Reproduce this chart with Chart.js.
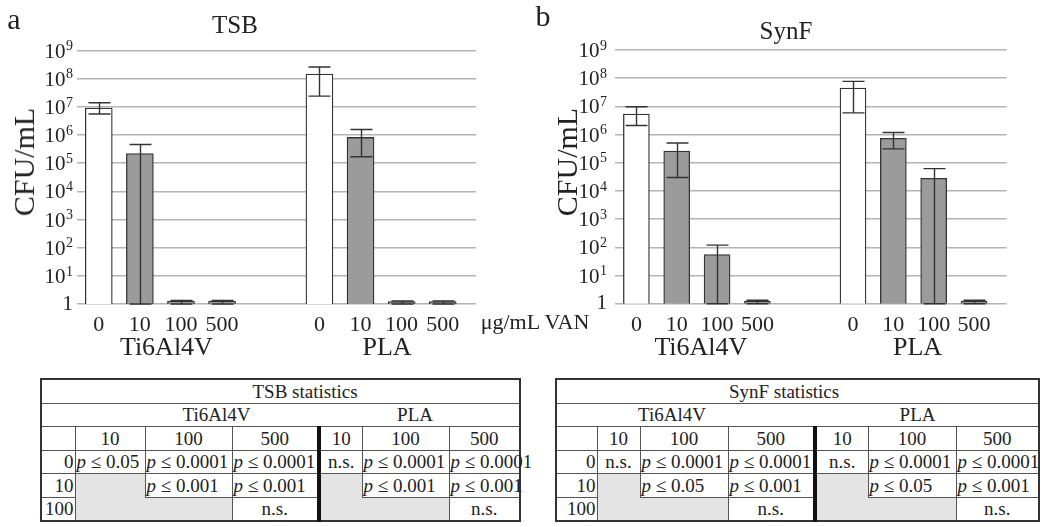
<!DOCTYPE html>
<html>
<head>
<meta charset="utf-8">
<script src="https://cdn.jsdelivr.net/npm/chart.js@4.4.0/dist/chart.umd.min.js"></script>
<style>
  body { margin: 0; background: #fff; font-family: "Liberation Serif", serif; color: #222; }
  #page { position: relative; width: 1050px; height: 527px; overflow: hidden; }
  .lbl { position: absolute; white-space: nowrap; line-height: 1; transform: translate(-50%, -50%); }
  .rot { transform: translate(-50%, -50%) rotate(-90deg); }
  canvas { position: absolute; top: 0; }
  table { position: absolute; top: 378px; border-collapse: collapse; table-layout: fixed; font-size: 19px; border: 2px solid #333; }
  td { border: 1px solid #555; height: 22.5px; padding: 0 1px; text-align: center; white-space: nowrap; line-height: 1; }
  td.pv { text-align: left; }
  td.rl { text-align: right; }
  td.gr { background: #e4e4e4; }
  td.thick { border-left: 4px solid #111; }
</style>
</head>
<body>
<div id="page">
  <canvas id="chartA" width="520" height="370" style="left:0"></canvas>
  <canvas id="chartB" width="530" height="370" style="left:520px"></canvas>

  <div class="lbl" style="left:14px; top:19px; font-size:30px;">a</div>
  <div class="lbl" style="left:543px; top:16px; font-size:30px;">b</div>
  <div class="lbl" style="left:235px; top:23.5px; font-size:25px;">TSB</div>
  <div class="lbl" style="left:786px; top:30px; font-size:25px;">SynF</div>
  <div class="lbl rot" style="left:24px; top:162px; font-size:30px;">CFU/mL</div>
  <div class="lbl rot" style="left:567px; top:162px; font-size:30px;">CFU/mL</div>
  <div class="lbl" style="left:535px; top:322px; font-size:22px;">μg/mL VAN</div>

  <table id="statsA" style="left:40px; width:479px;"></table>
  <table id="statsB" style="left:555px; width:483px;"></table>
</div>

<script>
// bar chart values (CFU/mL), order: Ti6Al4V 0,10,100,500 then PLA 0,10,100,500
const concentrations = ['0', '10', '100', '500'];
const materials = ['Ti6Al4V', 'PLA'];
const yTicks = [1, 1e1, 1e2, 1e3, 1e4, 1e5, 1e6, 1e7, 1e8, 1e9];

const tsbMean  = [9.0e6, 2.2e5, 1.28, 1.28, 1.45e8, 8.2e5, 1.22, 1.22];
const tsbUpper = [1.4e7, 4.6e5, 1.35, 1.35, 2.6e8, 1.56e6, 1.28, 1.28];
const tsbLower = [5.6e6, 1, 1, 1, 2.4e7, 1.7e5, 1, 1];

const synfMean  = [5.3e6, 2.6e5, 55, 1.25, 4.5e7, 7.4e5, 2.8e4, 1.25];
const synfUpper = [9.7e6, 5.0e5, 120, 1.32, 7.7e7, 1.18e6, 6.2e4, 1.32];
const synfLower = [2.1e6, 3.0e4, 1, 1, 5.9e6, 3.1e5, 1, 1];

// statistics tables: rows 0 / 10 / 100 vs columns Ti 10,100,500 | PLA 10,100,500
const statRows = ['0', '10', '100'];
const tsbStats = [
  ['p ≤ 0.05', 'p ≤ 0.0001', 'p ≤ 0.0001', 'n.s.', 'p ≤ 0.0001', 'p ≤ 0.0001'],
  [null, 'p ≤ 0.001', 'p ≤ 0.001', null, 'p ≤ 0.001', 'p ≤ 0.001'],
  [null, null, 'n.s.', null, null, 'n.s.']
];
const synfStats = [
  ['n.s.', 'p ≤ 0.0001', 'p ≤ 0.0001', 'n.s.', 'p ≤ 0.0001', 'p ≤ 0.0001'],
  [null, 'p ≤ 0.05', 'p ≤ 0.001', null, 'p ≤ 0.05', 'p ≤ 0.001'],
  [null, null, 'n.s.', null, null, 'n.s.']
];

const groupGap = 5.37;
const positions = materials.flatMap((m, g) => concentrations.map((c, i) => g * groupGap + i));

const errorBars = {
  id: 'errorBars',
  afterDatasetsDraw(chart, args, opts) {
    const ctx = chart.ctx;
    const y = chart.scales.y;
    const meta = chart.getDatasetMeta(0);
    ctx.save();
    ctx.strokeStyle = '#333';
    ctx.lineWidth = 1.4;
    meta.data.forEach((bar, i) => {
      const top = y.getPixelForValue(opts.upper[i]);
      const bot = y.getPixelForValue(opts.lower[i]);
      const x = Math.round(bar.x) + 0.5;
      ctx.beginPath();
      ctx.moveTo(x, top); ctx.lineTo(x, bot);
      ctx.moveTo(x - 11, top); ctx.lineTo(x + 11, top);
      ctx.moveTo(x - 11, bot); ctx.lineTo(x + 11, bot);
      ctx.stroke();
    });
    ctx.restore();
  }
};

// group names under the concentration ticks, and 10^n labels with a raised exponent
const axisText = {
  id: 'axisText',
  afterDraw(chart, args, opts) {
    const ctx = chart.ctx;
    const x = chart.scales.x;
    const y = chart.scales.y;
    ctx.save();
    ctx.fillStyle = '#222';
    ctx.font = '26px "Liberation Serif"';
    ctx.textAlign = 'center';
    ctx.textBaseline = 'alphabetic';
    materials.forEach((m, g) => {
      ctx.fillText(m, x.getPixelForValue(g * groupGap + 1.5) + opts.shift, 355);
    });
    ctx.textAlign = 'right';
    ctx.textBaseline = 'middle';
    const right = chart.chartArea.left - opts.pad;
    yTicks.forEach(v => {
      const py = y.getPixelForValue(v);
      const exp = Math.round(Math.log10(v));
      if (exp === 0) {
        ctx.font = '21px "Liberation Serif"';
        ctx.fillText('1', right, py);
        return;
      }
      ctx.font = '14px "Liberation Serif"';
      const sw = ctx.measureText(String(exp)).width;
      ctx.fillText(String(exp), right, py - 4);
      ctx.font = '21px "Liberation Serif"';
      ctx.fillText('10', right - sw - 0.5, py + 1.5);
    });
    ctx.restore();
  }
};

function makeChart(id, mean, upper, lower, cfg) {
  return new Chart(document.getElementById(id), {
    type: 'bar',
    data: {
      datasets: [{
        data: positions.map((p, i) => ({ x: p, y: mean[i] })),
        backgroundColor: positions.map((p, i) => i % 4 === 0 ? '#ffffff' : '#9b9b9b'),
        borderColor: '#333',
        borderWidth: 1.3,
        barThickness: cfg.bar
      }]
    },
    options: {
      responsive: false,
      animation: false,
      layout: { padding: { top: cfg.top, right: cfg.right, left: 0, bottom: 0 } },
      plugins: {
        legend: { display: false },
        tooltip: { enabled: false },
        errorBars: { upper: upper, lower: lower },
        axisText: { shift: cfg.shift, pad: cfg.tickPad }
      },
      scales: {
        x: {
          type: 'linear',
          bounds: 'data',
          offset: false,
          min: -0.53,
          max: 9.18,
          grid: { display: false },
          border: { display: false },
          afterBuildTicks: (scale) => { scale.ticks = positions.map(v => ({ value: v })); },
          afterFit: (scale) => { scale.height = 370 - cfg.bottom; },
          ticks: {
            autoSkip: false,
            maxRotation: 0,
            padding: 0,
            color: '#222',
            font: { family: 'Liberation Serif', size: 22 },
            callback: (v, i) => concentrations[i % 4]
          }
        },
        y: {
          type: 'logarithmic',
          min: 1,
          max: 1e9,
          afterBuildTicks: (scale) => { scale.ticks = yTicks.map(v => ({ value: v })); },
          afterFit: (scale) => { scale.width = cfg.left; },
          grid: { color: '#b4b4b4', lineWidth: 1.5, drawTicks: false },
          border: { display: false },
          ticks: { display: false, autoSkip: false }
        }
      }
    },
    plugins: [errorBars, axisText]
  });
}

makeChart('chartA', tsbMean, tsbUpper, tsbLower, { bar: 27, top: 50.5, bottom: 304, left: 77, right: 44, tickPad: 4, shift: 6 });
makeChart('chartB', synfMean, synfUpper, synfLower, { bar: 26, top: 50, bottom: 303.7, left: 95, right: 43.3, tickPad: 8, shift: 4 });

function buildTable(id, title, stats, widths, pads) {
  const t = document.getElementById(id);
  let html = '<colgroup>' + widths.map(w => '<col style="width:' + w + 'px">').join('') + '</colgroup>';
  html += '<tr><td colspan="7" style="padding-left:' + pads[0] + 'px;padding-right:' + pads[1] + 'px">' + title + '</td></tr>';
  html += '<tr><td colspan="4" style="border-right:hidden;padding-left:' + pads[2] + 'px;padding-right:' + pads[3] + 'px">' + materials[0] + '</td>' +
          '<td colspan="3" style="padding-right:' + pads[4] + 'px">' + materials[1] + '</td></tr>';
  html += '<tr><td></td>' + materials.map((m, g) => concentrations.slice(1).map((c, i) =>
            '<td' + (g === 1 && i === 0 ? ' class="thick"' : '') + '>' + c + '</td>').join('')).join('') + '</tr>';
  stats.forEach((row, r) => {
    html += '<tr><td class="rl">' + statRows[r] + '</td>';
    row.forEach((v, c) => {
      const cls = [];
      const st = [];
      if (c === 3) cls.push('thick');
      if (v === null) {
        cls.push('gr');
        if (r > 0 && stats[r - 1][c] === null) st.push('border-top:hidden');
        if (c < row.length - 1 && row[c + 1] === null && c !== 2) st.push('border-right:hidden');
      } else if (v.startsWith('p')) {
        cls.push('pv');
      }
      const txt = v === null ? '' : (v.startsWith('p') ? '<i>p</i>' + v.slice(1) : v);
      html += '<td class="' + cls.join(' ') + '" style="' + st.join(';') + '">' + txt + '</td>';
    });
    html += '</tr>';
  });
  t.innerHTML = html;
}

buildTable('statsA', 'TSB statistics', tsbStats, [34, 70, 87, 87, 43, 87, 71], [49, 0, 72, 0, 9]);
buildTable('statsB', 'SynF statistics', synfStats, [41, 43, 88, 87, 53, 88, 83], [0, 27, 0, 28, 19]);
</script>
</body>
</html>
